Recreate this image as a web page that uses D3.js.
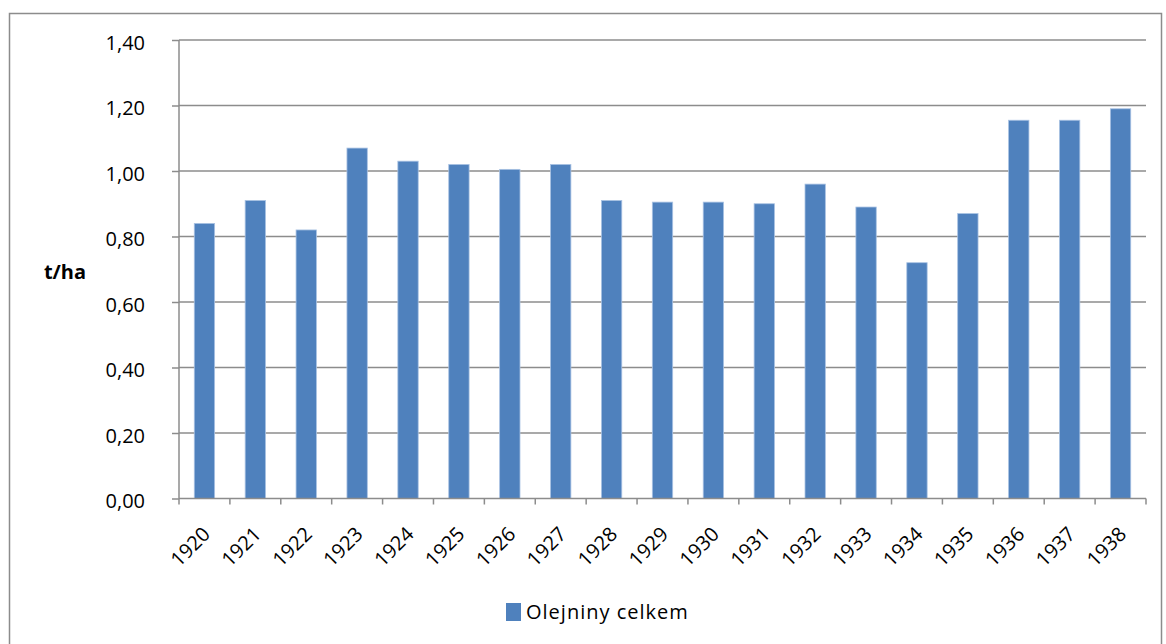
<!DOCTYPE html>
<html>
<head>
<meta charset="utf-8">
<script src="https://cdn.jsdelivr.net/npm/d3@7"></script>
<style>
  body { margin: 0; background: #fff; }
  svg { display: block; font-family: "Open Sans", sans-serif; }
</style>
</head>
<body>
<div id="chart"></div>
<script>
// data
var years = ["1920","1921","1922","1923","1924","1925","1926","1927","1928","1929",
             "1930","1931","1932","1933","1934","1935","1936","1937","1938"];
var yields = [0.84, 0.91, 0.82, 1.07, 1.03, 1.02, 1.005, 1.02, 0.91, 0.905,
              0.905, 0.90, 0.96, 0.89, 0.72, 0.87, 1.155, 1.155, 1.19];
var yTicks = [0, 0.2, 0.4, 0.6, 0.8, 1.0, 1.2, 1.4];
var seriesName = "Olejniny celkem";
var yTitle = "t/ha";

var width = 1166, height = 644;
var margin = {top: 40, left: 179};
var plotW = 967, plotH = 458.5;
var fontSize = 20;

var svg = d3.select("#chart").append("svg")
    .attr("width", width)
    .attr("height", height);

// outer chart border
svg.append("rect")
    .attr("x", 9.5).attr("y", 13.5)
    .attr("width", 1152).attr("height", 640)
    .attr("fill", "none")
    .attr("stroke", "#8c8c8c")
    .attr("stroke-width", 1.5);

var g = svg.append("g").attr("transform", "translate(" + margin.left + "," + margin.top + ")");

var x = d3.scaleBand().domain(years).range([0, plotW]).paddingInner(0.6).paddingOuter(0.3);
var y = d3.scaleLinear().domain([0, 1.4]).range([plotH, 0]);

var fmt = function(d) { return d3.format(".2f")(d).replace(".", ","); };

// gridlines
g.selectAll("line.grid")
    .data(yTicks.slice(1))
    .enter().append("line")
    .attr("class", "grid")
    .attr("x1", 0).attr("x2", plotW)
    .attr("y1", function(d) { return y(d); })
    .attr("y2", function(d) { return y(d); })
    .attr("stroke", "#8c8c8c")
    .attr("stroke-width", 1.5);

// bars
g.selectAll("rect.bar")
    .data(yields)
    .enter().append("rect")
    .attr("class", "bar")
    .attr("x", function(d, i) { return x(years[i]); })
    .attr("y", function(d) { return y(d); })
    .attr("width", x.bandwidth())
    .attr("height", function(d) { return y(0) - y(d); })
    .attr("fill", "#4f81bd")
    .attr("stroke", "#a9c2e3")
    .attr("stroke-width", 0.8);

// y axis
var yAxis = g.append("g")
    .call(d3.axisLeft(y).tickValues(yTicks).tickFormat(fmt).tickSize(7).tickPadding(27));
yAxis.select(".domain").attr("stroke", "#8c8c8c").attr("stroke-width", 1.5).attr("d", "M0,0V" + plotH);
yAxis.selectAll(".tick line").attr("stroke", "#8c8c8c").attr("stroke-width", 1.5);
yAxis.selectAll(".tick text")
    .attr("font-size", fontSize)
    .attr("fill", "#000")
    .attr("dy", "0.45em")
    .attr("font-family", "'Open Sans', sans-serif");

// x axis: ticks at band boundaries
var xAxisG = g.append("g").attr("transform", "translate(0," + plotH + ")");
xAxisG.append("line")
    .attr("x1", 0).attr("x2", plotW)
    .attr("stroke", "#8c8c8c").attr("stroke-width", 1.5);
var step = x.step();
xAxisG.selectAll("line.xt")
    .data(d3.range(years.length + 1))
    .enter().append("line")
    .attr("class", "xt")
    .attr("x1", function(i) { return i * step; })
    .attr("x2", function(i) { return i * step; })
    .attr("y1", 0).attr("y2", 6)
    .attr("stroke", "#8c8c8c").attr("stroke-width", 1.5);
xAxisG.selectAll("text")
    .data(years)
    .enter().append("text")
    .attr("transform", function(d) {
        return "translate(" + (x(d) + x.bandwidth() / 2 + 7) + ",37)rotate(-45)";
    })
    .attr("text-anchor", "end")
    .attr("font-size", fontSize)
    .attr("font-family", "'Open Sans', sans-serif")
    .attr("fill", "#000")
    .text(function(d) { return d; });

// y title
svg.append("text")
    .attr("x", 65).attr("y", 279)
    .attr("text-anchor", "middle")
    .attr("font-weight", "bold")
    .attr("font-size", fontSize)
    .attr("font-family", "'Open Sans', sans-serif")
    .text(yTitle);

// legend
var leg = svg.append("g").attr("transform", "translate(506,603)");
leg.append("rect").attr("width", 15).attr("height", 18).attr("fill", "#4f81bd");
leg.append("text")
    .attr("x", 20).attr("y", 16)
    .attr("font-size", fontSize)
    .attr("letter-spacing", 1)
    .attr("font-family", "'Open Sans', sans-serif")
    .text(seriesName);
</script>
</body>
</html>
